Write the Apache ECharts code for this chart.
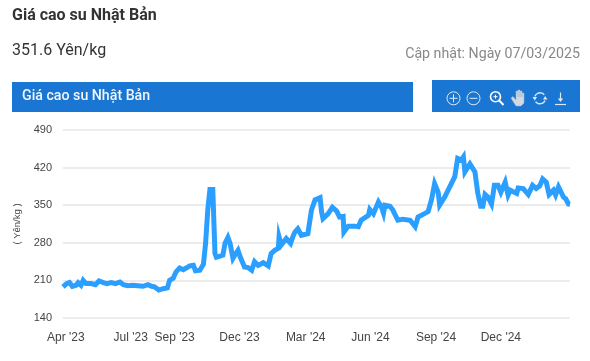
<!DOCTYPE html>
<html>
<head>
<meta charset="utf-8">
<style>html,body{margin:0;padding:0;background:#fff}#c{width:590px;height:361px}</style>
<script src="https://cdn.jsdelivr.net/npm/echarts@6/dist/echarts.min.js"></script>
</head>
<body>
<div id="c"></div>
<script>
const titleText = "Giá cao su Nhật Bản";
const priceText = "351.6 Yên/kg";
const updatedText = "Cập nhật: Ngày 07/03/2025";
const unitText = "( Yên/kg )";
// x is days since 3 Apr 2023; the series ends on 7 Mar 2025 (day 704)
const lastDay = 704;
const tickDays = [4,94,155,245,337,427,518,608];
const tickLabels = ["Apr '23","Jul '23","Sep '23","Dec '23","Mar '24","Jun '24","Sep '24","Dec '24"];
const days = [0,2,5,9,13,18,21,25,28,32,39,45,50,56,61,67,73,79,84,90,97,104,111,118,123,127,133,139,145,148,153,157,162,167,171,176,181,184,190,195,198,201,204,208,211,213,218,222,225,229,232,236,240,243,246,252,257,262,266,271,278,285,289,294,299,300,303,310,316,320,322,326,331,340,345,350,357,359,361,368,374,380,384,389,390,396,405,410,414,424,426,431,438,442,445,447,454,458,465,472,482,489,493,500,507,512,516,521,523,530,537,544,548,553,556,558,565,572,576,580,583,586,590,595,599,604,608,614,618,621,630,632,639,646,652,657,662,666,671,675,681,684,688,695,698,702,704];
const prices = [198,195,204,206,199,201,206,201,210,204,204,202,209,206,204,206,204,207,202,200,201,200,199,202,199,198,192,194.5,196,210,214,226,233,230,233,237,238,228,229,240,279,341,379,379,260,253,255,257,279,290,279,251,260,266,254,235,234,229,245,238,243,237,260,266,270,291,276,288,279,294,300,306,294,297,341,360,364,338,325,334,346,339,328,329,300,311,311,310,322,331,342,334,356,347,335,350,348,341,322,324,322,310,328,333,338,362,390,374,350,365,384,403,437,434,440,412,427,412,372,348,348,370,365,352,387,387,374,393,369,378,372,382,381,370,387,381,386,399,393,370,378,369,384,365,362,352,351.6];

const seriesData = days.map((d, i) => [d, prices[i]]);
const labelOf = v => { const i = tickDays.indexOf(v); return i >= 0 ? tickLabels[i] : ""; };

const AXIS_FONT = "'Liberation Sans'";
const W = "#ffffff";
const S = "#dfe9f5";
const icon = (o) => Object.assign({silent:true, z:5}, o);
const chart = echarts.init(document.getElementById('c'), null, {renderer:'canvas'});
chart.setOption({
  animation:false,
  backgroundColor:"#fff",
  grid:{left:63,right:20,top:130,bottom:43},
  xAxis:{type:'value',min:0,max:lastDay,
    axisLine:{show:false},axisTick:{show:false},splitLine:{show:false},
    axisLabel:{customValues:tickDays,formatter:labelOf,color:"#444",fontFamily:AXIS_FONT,fontSize:12,margin:14,showMinLabel:true,showMaxLabel:true}},
  yAxis:{type:'value',min:140,max:490,interval:70,
    name:unitText,nameLocation:'middle',nameGap:37,nameRotate:90,
    nameTextStyle:{color:"#444",fontFamily:AXIS_FONT,fontSize:9.5},
    axisLine:{show:false},axisTick:{show:false},
    splitLine:{lineStyle:{color:"#e6e6e6",width:1.5}},
    axisLabel:{color:"#444",fontFamily:AXIS_FONT,fontSize:11,margin:11}},
  series:[{type:'line',data:seriesData,showSymbol:false,symbol:'none',smooth:false,
    lineStyle:{color:"#2A9FFF",width:5,join:'miter',cap:'butt'},z:3}],
  graphic:[
    {type:'text',x:12,y:16,style:{text:titleText,fill:"#333",font:"700 16px Roboto",verticalAlign:'middle'}},
    {type:'text',x:12,y:51,style:{text:priceText,fill:"#333",font:"400 16px Roboto",verticalAlign:'middle'}},
    {type:'text',x:580,y:54,style:{text:updatedText,fill:"#888",font:"400 14.2px Roboto",align:'right',verticalAlign:'middle'}},
    {type:'rect',shape:{x:12,y:82,width:401,height:30},style:{fill:"#1976D2"}},
    {type:'text',x:22,y:96,z:5,style:{text:titleText,fill:"#f2f6fb",font:"500 14.2px Roboto",verticalAlign:'middle'}},
    {type:'rect',shape:{x:432,y:80,width:148,height:32},style:{fill:"#1976D2"}},
    icon({type:'circle',shape:{cx:453.5,cy:98.3,r:6.5},style:{fill:'none',stroke:S,lineWidth:1}}),
    icon({type:'line',shape:{x1:449.5,y1:98.3,x2:457.5,y2:98.3},style:{stroke:S,lineWidth:1}}),
    icon({type:'line',shape:{x1:453.5,y1:94.3,x2:453.5,y2:102.3},style:{stroke:S,lineWidth:1}}),
    icon({type:'circle',shape:{cx:473.5,cy:98.3,r:6.5},style:{fill:'none',stroke:S,lineWidth:1}}),
    icon({type:'line',shape:{x1:469.5,y1:98.3,x2:477.5,y2:98.3},style:{stroke:S,lineWidth:1}}),
    icon({type:'circle',shape:{cx:495.5,cy:96.7,r:5},style:{fill:'none',stroke:W,lineWidth:1.6}}),
    icon({type:'line',shape:{x1:499,y1:100.2,x2:503.5,y2:105},style:{stroke:W,lineWidth:2}}),
    icon({type:'line',shape:{x1:493.5,y1:96.7,x2:497.5,y2:96.7},style:{stroke:W,lineWidth:1}}),
    icon({type:'line',shape:{x1:495.5,y1:94.7,x2:495.5,y2:98.7},style:{stroke:W,lineWidth:1}}),
    icon({type:'polygon',shape:{points:[[511,98],[514,103],[516,106],[521,106],[524,103],[524,93],[522,93],[522,97],[522,91],[520,91],[520,97],[520,90],[518,90],[518,97],[518,91],[516,91],[516,100],[513,96.5]]},style:{fill:"#cfd8e3",stroke:"#9fb4cc",lineWidth:0.5}}),
    icon({type:'arc',shape:{cx:540,cy:98.3,r:5.5,startAngle:3.5,endAngle:5.6},style:{fill:'none',stroke:S,lineWidth:1.4}}),
    icon({type:'arc',shape:{cx:540,cy:98.3,r:5.5,startAngle:0.4,endAngle:2.5},style:{fill:'none',stroke:S,lineWidth:1.4}}),
    icon({type:'polygon',shape:{points:[[532.5,97],[537,97],[534.8,100.5]]},style:{fill:S}}),
    icon({type:'polygon',shape:{points:[[543,99.5],[547.5,99.5],[545.2,96]]},style:{fill:S}}),
    icon({type:'line',shape:{x1:560.5,y1:92.5,x2:560.5,y2:101},style:{stroke:S,lineWidth:1.2}}),
    icon({type:'polygon',shape:{points:[[557.8,98.5],[563.2,98.5],[560.5,102]]},style:{fill:S}}),
    icon({type:'line',shape:{x1:555,y1:104.5,x2:566,y2:104.5},style:{stroke:S,lineWidth:1.2}})
  ]
});
</script>
</body>
</html>
